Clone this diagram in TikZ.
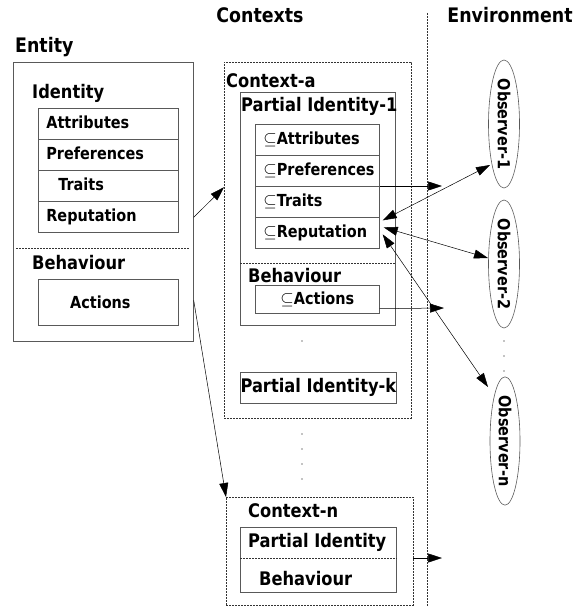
\documentclass[tikz,border=0pt]{standalone}
\usepackage{fontspec}
\setmainfont{DejaVu Sans}[FakeStretch=0.87]
\usepackage{tikz}
\usetikzlibrary{positioning}
\usetikzlibrary{arrows.meta}
\usetikzlibrary{shapes.geometric,calc}

\tikzset{
  title/.style={font=\fontsize{20}{23}\selectfont\bfseries, inner sep=0pt},
  hfont/.style={font=\fontsize{18.7}{21}\selectfont\bfseries},
  head/.style={hfont, inner sep=0pt, anchor=base west},
  item/.style={font=\fontsize{16.6}{19}\selectfont\bfseries},
  box/.style={draw=black!65, line width=0.7pt, inner sep=0pt, anchor=north west},
  dbox/.style={draw=black!80, line width=0.45pt, dash pattern=on 2pt off 1pt, inner sep=0pt, anchor=north west},
  cell/.style={box, item, minimum height=31pt, inner xsep=8pt, text width=#1, align=left, text height=12.5pt, text depth=3.5pt},
  sep/.style={draw=black!80, line width=0.45pt, dash pattern=on 2pt off 1pt},
  obs/.style={ellipse, draw=black!65, line width=0.6pt, rotate=-90, inner sep=0pt, minimum width=124pt, minimum height=31pt, item},
  arr/.style={line width=0.5pt, -{Triangle[length=14pt,width=9pt]}},
  darr/.style={line width=0.5pt, {Triangle[length=14pt,width=9pt]}-{Triangle[length=14pt,width=9pt]}},
}

\begin{document}
\begin{tikzpicture}[x=1pt, y=-1pt]
\useasboundingbox (0,0) rectangle (587,607);
\node[title, anchor=base west] (tent) at (15,53) {Entity};
\node[title, anchor=base] (tctx) at (260,23) {Contexts};
\node[title, anchor=base] (tenv) at (510,23) {Environment};
\draw[sep] (427,13) -- (427,607);

% entity
\node[box, minimum width=180pt, minimum height=279pt] (entity) at (13,62) {};
\node[head] (tid) at (32,99) {Identity};
\node[cell=124pt] (attr) at (38,108) {\mbox{Attributes}};
\node[cell=124pt] (pref) at (38,139) {\mbox{Preferences}};
\node[cell=124pt] (trait) at (38,170) {\hspace*{12pt}\mbox{Traits}};
\node[cell=124pt] (repu) at (38,201) {\mbox{Reputation}};
\draw[sep] (16,248) -- (189,248);
\node[head] (tbeh) at (32,269) {Behaviour};
\node[box, item, minimum width=140pt, minimum height=46pt, text width=124pt, inner xsep=8pt, align=center] (act) at (38,279) {\hspace*{-16pt}Actions\\[4pt]};

% context-a
\node[dbox, minimum width=187pt, minimum height=356pt] (ctxa) at (224,62) {};
\node[head] (tca) at (226,88) {Context-a};
\node[box, minimum width=155pt, minimum height=233pt] (pi1) at (240,92) {};
\node[head] (tpi1) at (241,112) {Partial Identity-1};
\node[cell=108pt] (cattr) at (255,124) {\mbox{$\subseteq$Attributes}};
\node[cell=108pt] (cpref) at (255,155) {\mbox{$\subseteq$Preferences}};
\node[cell=108pt] (ctrait) at (255,186) {\mbox{$\subseteq$Traits}};
\node[cell=108pt] (crep) at (255,217) {\mbox{$\subseteq$Reputation}};
\draw[sep] (240,263) -- (395,263);
\node[head] (tcb) at (248,282) {Behaviour};
\node[box, item, minimum width=124pt, minimum height=28pt] (cact) at (255,285) {$\subseteq$Actions};
\node[box, hfont, minimum width=156pt, minimum height=31pt] (pik) at (240,372) {Partial Identity-k};
\foreach \y in {341,434,449,464,479}
  \fill (302,\y) circle (0.6pt);

% context-n
\node[dbox, minimum width=187pt, minimum height=108pt] (ctxn) at (226,497) {};
\node[head] (tcn) at (248,517) {Context-n};
\node[box, minimum width=156pt, minimum height=65pt] (pin) at (240,527) {};
\node[head] (tpin) at (248,547) {Partial Identity};
\draw[sep] (240,558) -- (397,558);
\node[head] (tpnb) at (259,585) {Behaviour};

% environment
\node[obs] (obs1) at (504,124) {Observer-1};
\node[obs] (obs2) at (504,264) {Observer-2};
\node[obs, minimum width=110pt, minimum height=30pt] (obsn) at (505,441) {Observer-n};
\foreach \y in {341,356,371}
  \fill (504,\y) circle (0.6pt);

\coordinate (outt) at (442,186);
\coordinate (outa) at (444,308);
\coordinate (outn) at (442,558);
\draw[arr] ($(entity.east)+(0,15.5)$) -- ($(ctxa.west)+(0,-53)$);
\draw[arr] ($(entity.east)+(0,98.5)$) -- (ctxn.north west);
\draw[arr] (ctrait.north east) -- (outt);
\draw[arr] ($(cact.south east)+(0,-5)$) -- (outa);
\draw[arr] (ctxn.east |- outn) -- (outn);
\draw[darr] ($(crep.east)+(3,-12.5)$) -- ($(obs1.center)+(-14,41)$);
\draw[darr] ($(crep.east)+(4,-5.5)$) -- ($(obs2.center)+(-16,-6)$);
\draw[darr] ($(crep.east)+(3,1.5)$) -- ($(obsn.center)+(-17,-54)$);
\end{tikzpicture}
\end{document}
